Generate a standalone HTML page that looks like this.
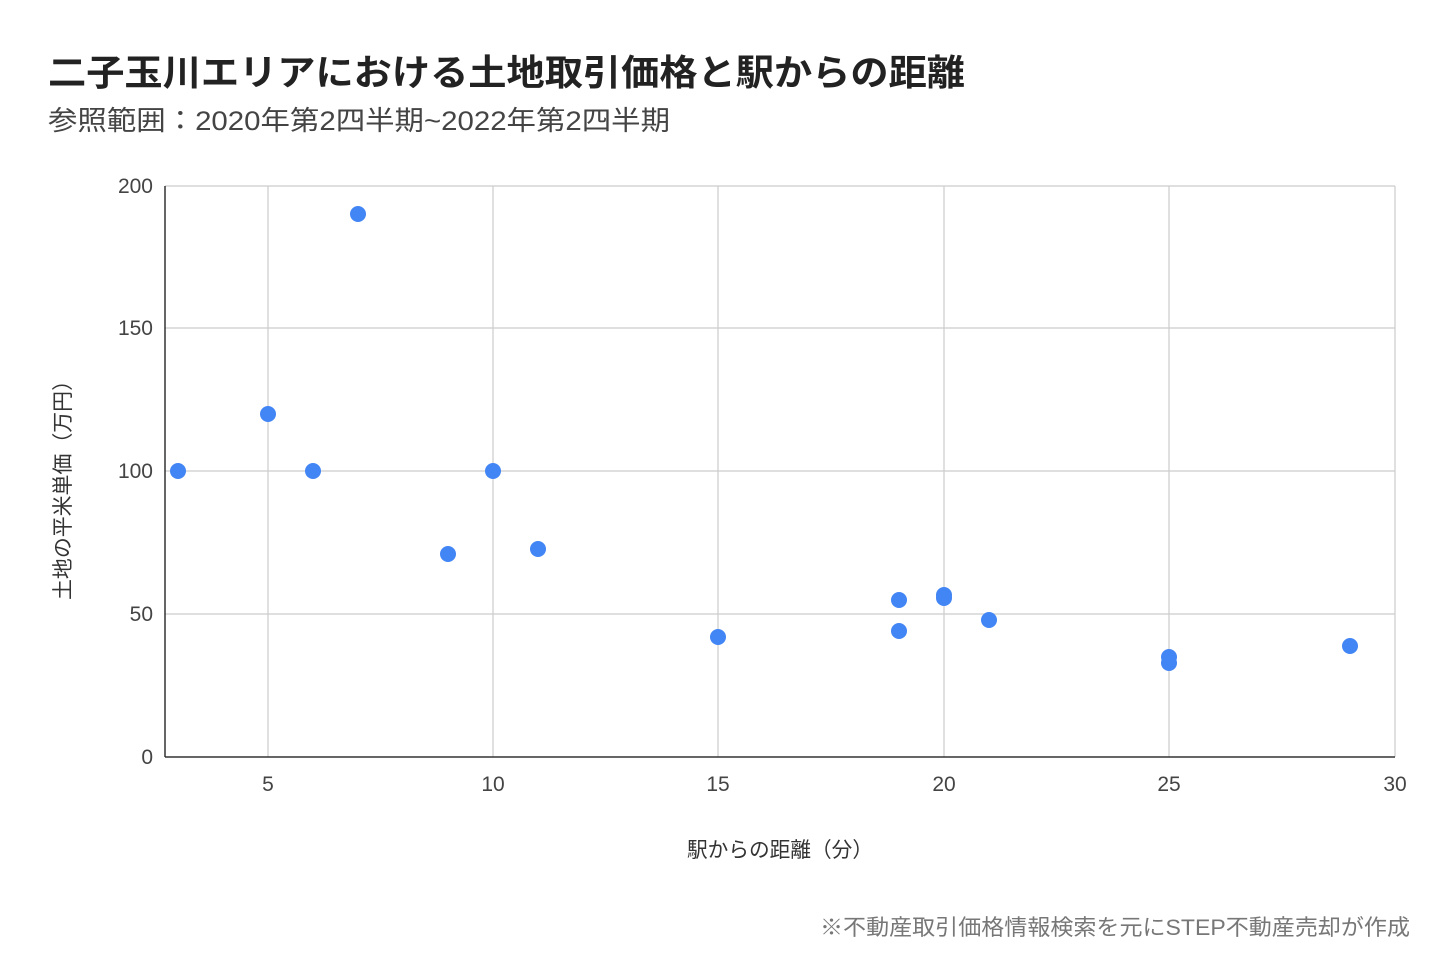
<!DOCTYPE html>
<html><head><meta charset="utf-8"><style>
body{margin:0;background:#fff;}
svg text{font-family:"Liberation Sans","Noto Sans CJK JP",sans-serif;}
</style></head><body>
<svg width="1440" height="968" viewBox="0 0 1440 968" xmlns="http://www.w3.org/2000/svg">
<rect width="1440" height="968" fill="#fff"/>
<text x="48" y="85" font-size="36" font-weight="bold" fill="#222" textLength="917" lengthAdjust="spacingAndGlyphs">二子玉川エリアにおける土地取引価格と駅からの距離</text>
<text x="48" y="130" font-size="27" fill="#444" textLength="622" lengthAdjust="spacingAndGlyphs">参照範囲：2020年第2四半期~2022年第2四半期</text>
<g stroke="#ccc" stroke-width="1.2">
<line x1="165" y1="186" x2="1395" y2="186"/>
<line x1="165" y1="328" x2="1395" y2="328"/>
<line x1="165" y1="471" x2="1395" y2="471"/>
<line x1="165" y1="614" x2="1395" y2="614"/>
<line x1="268" y1="186" x2="268" y2="757"/>
<line x1="493" y1="186" x2="493" y2="757"/>
<line x1="718" y1="186" x2="718" y2="757"/>
<line x1="944" y1="186" x2="944" y2="757"/>
<line x1="1169" y1="186" x2="1169" y2="757"/>
<line x1="1395" y1="186" x2="1395" y2="757"/>
</g>
<line x1="165" y1="186" x2="165" y2="757" stroke="#333" stroke-width="1.5"/>
<line x1="165" y1="757" x2="1395" y2="757" stroke="#333" stroke-width="1.5"/>
<g font-size="21" fill="#444" text-anchor="end">
<text x="153" y="193">200</text><text x="153" y="335">150</text><text x="153" y="478">100</text><text x="153" y="621">50</text><text x="153" y="764">0</text>
</g>
<g font-size="21" fill="#444" text-anchor="middle">
<text x="268" y="791">5</text><text x="493" y="791">10</text><text x="718" y="791">15</text><text x="944" y="791">20</text><text x="1169" y="791">25</text><text x="1395" y="791">30</text>
</g>
<text x="687" y="857" font-size="21" fill="#333" textLength="186" lengthAdjust="spacingAndGlyphs">駅からの距離（分）</text>
<text transform="translate(70,600) rotate(-90)" font-size="21" fill="#333" textLength="230" lengthAdjust="spacingAndGlyphs">土地の平米単価（万円）</text>
<g fill="#4285f4">
<circle cx="178" cy="471" r="8"/><circle cx="268" cy="414" r="8"/><circle cx="313" cy="471" r="8"/><circle cx="358" cy="214" r="8"/>
<circle cx="448" cy="554" r="8"/><circle cx="493" cy="471" r="8"/><circle cx="538" cy="549" r="8"/><circle cx="718" cy="637" r="8"/>
<circle cx="899" cy="600" r="8"/><circle cx="899" cy="631" r="8"/><circle cx="944" cy="595" r="8"/><circle cx="944" cy="598" r="8"/>
<circle cx="989" cy="620" r="8"/><circle cx="1169" cy="657" r="8"/><circle cx="1169" cy="663" r="8"/><circle cx="1350" cy="646" r="8"/>
</g>
<text x="820" y="935" font-size="22" fill="#777" textLength="590" lengthAdjust="spacingAndGlyphs">※不動産取引価格情報検索を元にSTEP不動産売却が作成</text>
</svg>
</body></html>
